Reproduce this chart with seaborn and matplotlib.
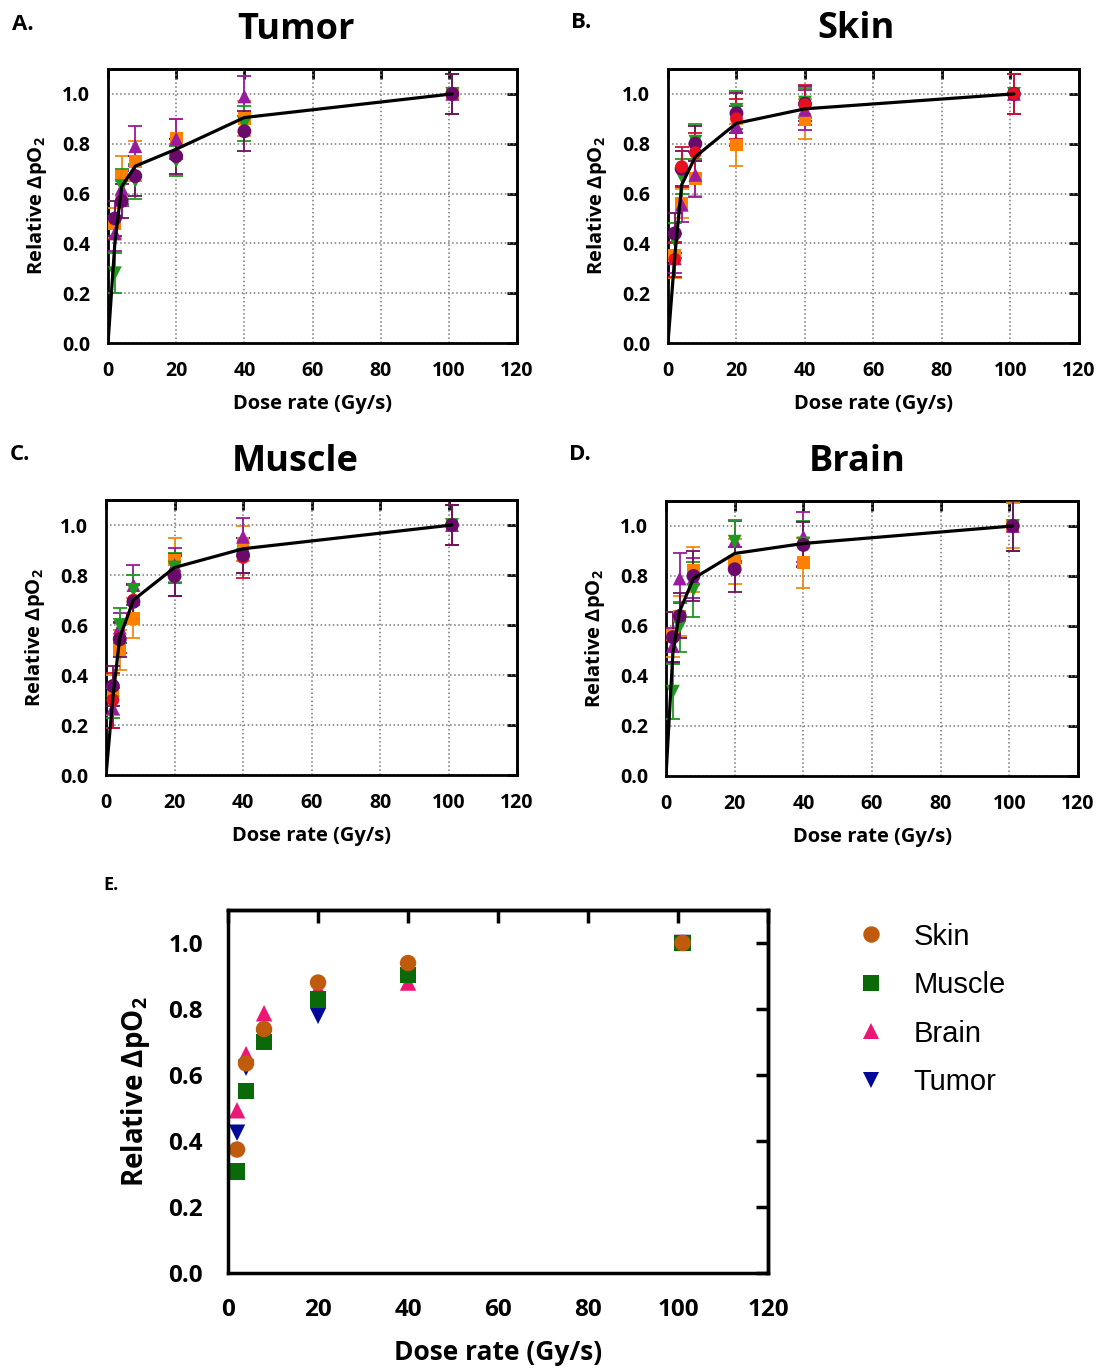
import pandas as pd
import seaborn as sns
import matplotlib.pyplot as plt

# Dose rates (Gy/s) shared by every panel
dose = [2, 4, 8, 20, 40, 101]
fit_x = [0, 2, 4, 8, 20, 40, 101]

# Panel A - Tumor (per series: values, error)
tumor_sq = [0.48, 0.67, 0.73, 0.82, 0.90, 1.0]
tumor_sq_err = [0.06, 0.08, 0.08, 0.08, 0.07, 0.08]
tumor_up = [0.44, 0.62, 0.79, 0.82, 0.99, 1.0]
tumor_up_err = [0.07, 0.07, 0.08, 0.08, 0.08, 0.08]
tumor_dn = [0.28, 0.63, 0.65, 0.73, 0.88, 1.0]
tumor_dn_err = [0.08, 0.07, 0.07, 0.06, 0.07, 0.08]
tumor_ci = [0.50, 0.57, 0.67, 0.75, 0.85, 1.0]
tumor_ci_err = [0.07, 0.07, 0.08, 0.07, 0.08, 0.08]
tumor_fit = [0, 0.40, 0.628, 0.71, 0.778, 0.905, 1.0]

# Panel B - Skin
skin_sq = [0.35, 0.56, 0.66, 0.795, 0.898, 1.0]
skin_sq_err = [0.09, 0.06, 0.07, 0.085, 0.08, 0.08]
skin_up = [0.34, 0.555, 0.675, 0.87, 0.936, 1.0]
skin_up_err = [0.06, 0.07, 0.09, 0.08, 0.08, 0.08]
skin_dn = [0.41, 0.668, 0.808, 0.936, 0.965, 1.0]
skin_dn_err = [0.07, 0.07, 0.07, 0.075, 0.06, 0.08]
skin_ci = [0.44, 0.70, 0.80, 0.922, 0.96, 1.0]
skin_ci_err = [0.08, 0.07, 0.07, 0.08, 0.07, 0.08]
skin_rd = [0.336, 0.708, 0.764, 0.90, 0.956, 1.0]
skin_rd_err = [0.07, 0.08, 0.08, 0.08, 0.08, 0.08]
skin_fit = [0, 0.35, 0.635, 0.748, 0.882, 0.94, 1.0]

# Panel C - Muscle
muscle_sq = [0.32, 0.50, 0.627, 0.86, 0.927, 1.0]
muscle_sq_err = [0.08, 0.08, 0.08, 0.087, 0.07, 0.08]
muscle_up = [0.267, 0.59, 0.76, 0.84, 0.953, 1.0]
muscle_up_err = [0.08, 0.06, 0.08, 0.07, 0.075, 0.08]
muscle_dn = [0.29, 0.60, 0.74, 0.83, 0.88, 1.0]
muscle_dn_err = [0.06, 0.07, 0.06, 0.06, 0.07, 0.08]
muscle_rd = [0.30, 0.55, 0.70, 0.80, 0.87, 1.0]
muscle_rd_err = [0.11, 0.06, 0.06, 0.085, 0.08, 0.08]
muscle_ci = [0.356, 0.543, 0.693, 0.796, 0.88, 1.0]
muscle_ci_err = [0.08, 0.07, 0.07, 0.08, 0.07, 0.08]
muscle_fit = [0, 0.31, 0.55, 0.70, 0.83, 0.905, 1.0]

# Panel D - Brain
brain_sq = [0.564, 0.64, 0.824, 0.857, 0.853, 1.0]
brain_sq_err = [0.09, 0.08, 0.09, 0.09, 0.10, 0.09]
brain_up = [0.52, 0.79, 0.79, 0.94, 0.957, 1.0]
brain_up_err = [0.07, 0.10, 0.08, 0.08, 0.10, 0.10]
brain_dn = [0.337, 0.597, 0.744, 0.937, 0.93, 1.0]
brain_dn_err = [0.11, 0.10, 0.11, 0.085, 0.09, 0.10]
brain_ci = [0.555, 0.64, 0.80, 0.827, 0.924, 1.0]
brain_ci_err = [0.10, 0.09, 0.10, 0.09, 0.09, 0.10]
brain_fit = [0, 0.49, 0.66, 0.79, 0.89, 0.93, 1.0]

# Panel E - mean relative change per tissue
e_skin = [0.374, 0.635, 0.739, 0.880, 0.939, 1.0]
e_muscle = [0.308, 0.551, 0.700, 0.828, 0.903, 1.0]
e_brain = [0.493, 0.663, 0.787, 0.862, 0.880, 1.0]
e_tumor = [0.425, 0.622, 0.71, 0.779, 0.90, 1.0]

sns.set_theme(style="white")
plt.rcParams["font.family"] = ["Open Sans", "DejaVu Sans"]
plt.rcParams["font.weight"] = "bold"
plt.rcParams["mathtext.fontset"] = "custom"
plt.rcParams["mathtext.rm"] = "Open Sans:bold"
plt.rcParams["mathtext.it"] = "Open Sans:bold"
plt.rcParams["mathtext.bf"] = "Open Sans:bold"
for key in ["text.color", "axes.labelcolor", "xtick.color", "ytick.color"]:
    plt.rcParams[key] = "black"

# series styles for panels A-D
style = {
    "sq": ("#FF8000", "s", 85),
    "up": ("#9A1AA0", "^", 100),
    "dn": ("#1E9A1E", "v", 100),
    "ci": ("#6A0A6A", "o", 100),
    "rd": ("#E81020", "o", 85),
}
ecol = dict(sq="#F08A10", up="#9A1AA0", dn="#1E9A1E", ci="#701060", rd="#D01030")

ylabel = "Relative ΔpO$_2$"


def mirror_ticks(ax, length, width):
    top = ax.secondary_xaxis("top")
    top.set_xticks(ax.get_xticks())
    top.tick_params(direction="in", length=length, width=width, labeltop=False)
    top.spines["top"].set_linewidth(width)
    right = ax.secondary_yaxis("right")
    right.set_yticks(ax.get_yticks())
    right.tick_params(direction="in", length=length, width=width, labelright=False)
    right.spines["right"].set_linewidth(width)


def draw_panel(ax, series, fit):
    rows = []
    for key, vals, errs in series:
        for x, y in zip(dose, vals):
            rows.append({"Dose": x, "Value": y, "Series": key})
        ax.errorbar(dose, vals, yerr=errs, fmt="none", ecolor=ecol[key],
                    elinewidth=1.3, capsize=5, capthick=1.3, zorder=3)
    df = pd.DataFrame(rows)
    keys = [s[0] for s in series]
    sns.scatterplot(data=df, x="Dose", y="Value", hue="Series", style="Series",
                    size="Series", hue_order=keys, style_order=keys, size_order=keys,
                    palette={k: style[k][0] for k in keys},
                    markers={k: style[k][1] for k in keys},
                    sizes={k: style[k][2] for k in keys},
                    edgecolor="none", linewidth=0, legend=False, ax=ax, zorder=4)
    sns.lineplot(x=fit_x, y=fit, color="black", linewidth=2.3, ax=ax, zorder=5)
    ax.set_xlim(0, 120)
    ax.set_ylim(0, 1.1)
    ax.set_xticks(range(0, 121, 20))
    ax.set_yticks([0.0, 0.2, 0.4, 0.6, 0.8, 1.0])
    ax.set_yticklabels(["0.0", "0.2", "0.4", "0.6", "0.8", "1.0"])
    ax.grid(True, linestyle=":", color="#777777", linewidth=1.1)
    for sp in ax.spines.values():
        sp.set_linewidth(2)
        sp.set_color("black")
    ax.tick_params(direction="out", length=7, width=2, labelsize=14, pad=6)
    for lab in ax.get_xticklabels() + ax.get_yticklabels():
        lab.set_fontweight("bold")
    ax.set_xlabel("Dose rate (Gy/s)", fontsize=14.5, fontweight="bold", labelpad=9)
    ax.set_ylabel(ylabel, fontsize=14.5, fontweight="bold", labelpad=9)
    mirror_ticks(ax, 7, 2)


fig = plt.figure(figsize=(10.99, 13.71), dpi=100)

axA = fig.add_axes([0.0983, 0.7498, 0.3722, 0.1999])
axB = fig.add_axes([0.6078, 0.7498, 0.3740, 0.1999])
axC = fig.add_axes([0.0965, 0.4347, 0.3740, 0.2006])
axD = fig.add_axes([0.6060, 0.4340, 0.3750, 0.2006])
axE = fig.add_axes([0.2075, 0.0715, 0.4914, 0.2648])

draw_panel(axA, [("sq", tumor_sq, tumor_sq_err), ("up", tumor_up, tumor_up_err),
                 ("dn", tumor_dn, tumor_dn_err), ("ci", tumor_ci, tumor_ci_err)], tumor_fit)
draw_panel(axB, [("sq", skin_sq, skin_sq_err), ("up", skin_up, skin_up_err),
                 ("dn", skin_dn, skin_dn_err), ("ci", skin_ci, skin_ci_err),
                 ("rd", skin_rd, skin_rd_err)], skin_fit)
draw_panel(axC, [("sq", muscle_sq, muscle_sq_err), ("up", muscle_up, muscle_up_err),
                 ("dn", muscle_dn, muscle_dn_err), ("rd", muscle_rd, muscle_rd_err),
                 ("ci", muscle_ci, muscle_ci_err)], muscle_fit)
draw_panel(axD, [("sq", brain_sq, brain_sq_err), ("up", brain_up, brain_up_err),
                 ("dn", brain_dn, brain_dn_err), ("ci", brain_ci, brain_ci_err)], brain_fit)

# titles and panel letters
W, H = 1099, 1371
for txt, x, y in [("Tumor", 296, 30), ("Skin", 856, 29), ("Muscle", 295, 462), ("Brain", 857, 462)]:
    fig.text(x / W, 1 - y / H, txt, ha="center", va="center", fontsize=26, fontweight="bold")
for txt, x, y, fs in [("A.", 12, 25, 16), ("B.", 571, 23, 16), ("C.", 10, 455, 16),
                      ("D.", 569, 455, 16), ("E.", 103, 885, 13)]:
    fig.text(x / W, 1 - y / H, txt, ha="left", va="center", fontsize=fs, fontweight="bold")

# Panel E
tissues = ["Tumor", "Brain", "Muscle", "Skin"]
tissue_vals = [e_tumor, e_brain, e_muscle, e_skin]
rows = []
for t, vals in zip(tissues, tissue_vals):
    for x, y in zip(dose, vals):
        rows.append({"Dose": x, "Value": y, "Tissue": t})
dfE = pd.DataFrame(rows)
order = ["Skin", "Muscle", "Brain", "Tumor"]
sns.scatterplot(data=dfE, x="Dose", y="Value", hue="Tissue", style="Tissue",
                hue_order=order, style_order=order,
                palette={"Skin": "#C05A0C", "Muscle": "#0A6A0A", "Brain": "#EC1676", "Tumor": "#000A96"},
                markers={"Skin": "o", "Muscle": "s", "Brain": "^", "Tumor": "v"},
                s=140, edgecolor="none", linewidth=0, ax=axE)
axE.set_xlim(0, 120)
axE.set_ylim(0, 1.1)
axE.set_xticks(range(0, 121, 20))
axE.set_yticks([0.0, 0.2, 0.4, 0.6, 0.8, 1.0])
axE.set_yticklabels(["0.0", "0.2", "0.4", "0.6", "0.8", "1.0"])
for sp in axE.spines.values():
    sp.set_linewidth(2.5)
    sp.set_color("black")
axE.tick_params(direction="out", length=9, width=2.5, labelsize=17.5, pad=9)
for lab in axE.get_xticklabels() + axE.get_yticklabels():
    lab.set_fontweight("bold")
axE.set_xlabel("Dose rate (Gy/s)", fontsize=19, fontweight="bold", labelpad=12)
axE.set_ylabel(ylabel, fontsize=20, fontweight="bold", labelpad=12)
mirror_ticks(axE, 9, 2.5)

handles, labels = axE.get_legend_handles_labels()
leg = axE.legend(handles, labels, loc="upper left", bbox_to_anchor=(0.781, 0.327),
                 bbox_transform=fig.transFigure, frameon=False, borderaxespad=0,
                 borderpad=0, handlelength=0.9, handletextpad=1.0, labelspacing=0.7,
                 markerscale=1.0, prop={"family": "Liberation Sans", "size": 21, "weight": "normal"})

fig.savefig("out.png", dpi=100)
